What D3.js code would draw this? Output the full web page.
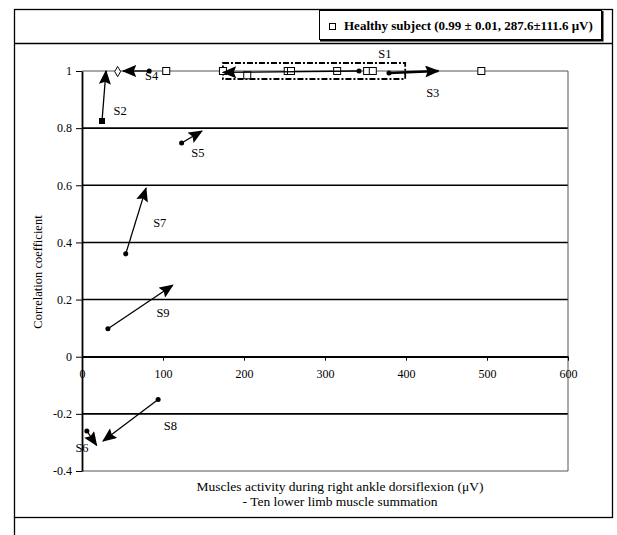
<!DOCTYPE html>
<html>
<head>
<meta charset="utf-8">
<script src="https://cdn.jsdelivr.net/npm/d3@7"></script>
<style>
  body { margin: 0; background: #fff; }
  text { font-family: "Liberation Serif", "DejaVu Serif", serif; fill: #000; }
</style>
</head>
<body>
<script>
//chart values
var yTickValues = [-0.4, -0.2, 0, 0.2, 0.4, 0.6, 0.8, 1];
var yTickLabels = ["-0.4", "-0.2", "0", "0.2", "0.4", "0.6", "0.8", "1"];
var xTickValues = [0, 100, 200, 300, 400, 500, 600];

//healthy subjects (open squares)
var healthyX = [104, 174, 204, 254, 258, 315, 352, 359, 493];
var healthyY = [1.0, 1.0, 0.985, 1.0, 1.0, 1.0, 1.0, 1.0, 1.0];

//patients: from first test (dot) to second test (arrow head)
var subjects = ["S1", "S2", "S3", "S4", "S5", "S6", "S7", "S8", "S9"];
var startX = [342, 24.7, 379, 83, 123, 6, 54, 94, 32];
var startY = [1.0, 0.825, 0.993, 1.0, 0.748, -0.26, 0.36, -0.15, 0.098];
var endX   = [174, 29.6, 440, 50.6, 148, 18, 79, 26, 112];
var endY   = [0.995, 1.0, 1.0, 1.0, 0.79, -0.31, 0.59, -0.295, 0.25];
var labelX = [374, 47, 433, 86, 143, 0, 96, 109, 100];
var labelY = [1.06, 0.86, 0.923, 0.985, 0.716, -0.317, 0.47, -0.24, 0.155];

//extra open diamond near S4 and the dashed box around S1
var diamondX = [44], diamondY = [0.998];
var boxX = [174, 399], boxY = [0.972, 1.028];

window.onload = drawChart();

function drawChart() {
    var width = 617,
        height = 535;

    var svg = d3.select("body")
        .append("svg")
        .attr("width", width)
        .attr("height", height);

    var x = d3.scaleLinear().domain([0, 600]).range([82, 568]);
    var y = d3.scaleLinear().domain([-0.4, 1]).range([471, 71]);

    //outer frames
    svg.append("rect")
        .attr("x", 14.5).attr("y", 9.5)
        .attr("width", 598).attr("height", 508)
        .attr("fill", "none").attr("stroke", "#000").attr("stroke-width", 1.3);
    svg.append("line")
        .attr("x1", 14.5).attr("x2", 612.5).attr("y1", 43.5).attr("y2", 43.5)
        .attr("stroke", "#000").attr("stroke-width", 1.3);
    svg.append("line")
        .attr("x1", 14.5).attr("x2", 14.5).attr("y1", 517).attr("y2", 535)
        .attr("stroke", "#000").attr("stroke-width", 1.3);

    //legend
    var lg = svg.append("g");
    lg.append("rect")
        .attr("x", 319.5).attr("y", 10.5).attr("width", 282).attr("height", 29)
        .attr("fill", "#fff").attr("stroke", "#000").attr("stroke-width", 1);
    lg.append("path")
        .attr("d", "M320,40.5H602.5V11")
        .attr("fill", "none").attr("stroke", "#000").attr("stroke-width", 2);
    lg.append("rect")
        .attr("x", 329.5).attr("y", 23.5).attr("width", 6).attr("height", 6)
        .attr("fill", "#fff").attr("stroke", "#000");
    lg.append("text")
        .attr("x", 344).attr("y", 30)
        .attr("font-size", "13px").attr("font-weight", "bold")
        .text("Healthy subject (0.99 \u00b1 0.01, 287.6\u00b1111.6 \u03bcV)");

    //horizontal grid lines
    svg.append("g").selectAll("line")
        .data(yTickValues)
        .enter()
        .append("line")
        .attr("x1", x(0)).attr("x2", x(600))
        .attr("y1", function(d) { return y(d); })
        .attr("y2", function(d) { return y(d); })
        .attr("stroke", function(d) { return (d === 1 || d === -0.4) ? "#555" : "#000"; })
        .attr("stroke-width", function(d) { return (d === 1 || d === -0.4) ? 1 : 1.6; });

    //right border of plot
    svg.append("line")
        .attr("x1", x(600)).attr("x2", x(600)).attr("y1", y(1)).attr("y2", y(-0.4))
        .attr("stroke", "#555").attr("stroke-width", 1);

    //y axis
    var yAxis = d3.axisLeft(y)
        .tickValues(yTickValues)
        .tickFormat(function(d, i) { return yTickLabels[i]; })
        .tickSize(6)
        .tickSizeOuter(0)
        .tickPadding(4);
    var ya = svg.append("g")
        .attr("transform", "translate(" + x(0) + ",0)")
        .call(yAxis);
    ya.select(".domain").attr("stroke-width", 1.8);
    ya.selectAll("text").attr("font-size", "12px").attr("font-family", "Liberation Serif");

    //x axis on zero line
    var xAxis = d3.axisBottom(x)
        .tickValues(xTickValues)
        .tickSize(4)
        .tickSizeOuter(0)
        .tickPadding(9);
    var xa = svg.append("g")
        .attr("transform", "translate(0," + y(0) + ")")
        .call(xAxis);
    xa.select(".domain").attr("stroke-width", 1.4);
    xa.selectAll("text").attr("font-size", "12px").attr("font-family", "Liberation Serif");

    //axis titles
    svg.append("text")
        .attr("transform", "translate(42,272) rotate(-90)")
        .attr("text-anchor", "middle")
        .attr("font-size", "12.5px")
        .text("Correlation coefficient");
    svg.append("text")
        .attr("x", 340).attr("y", 491)
        .attr("text-anchor", "middle")
        .attr("font-size", "13.5px")
        .text("Muscles activity during right ankle dorsiflexion (\u03bcV)");
    svg.append("text")
        .attr("x", 340).attr("y", 506)
        .attr("text-anchor", "middle")
        .attr("font-size", "13.5px")
        .text("- Ten lower limb muscle summation");

    //dashed box around S1
    svg.append("rect")
        .attr("x", x(boxX[0])).attr("y", y(boxY[1]))
        .attr("width", x(boxX[1]) - x(boxX[0]))
        .attr("height", y(boxY[0]) - y(boxY[1]))
        .attr("fill", "none").attr("stroke", "#000")
        .attr("stroke-width", 1.8).attr("stroke-dasharray", "6,2,2,2");

    //arrow head marker
    svg.append("defs").append("marker")
        .attr("id", "arrow")
        .attr("viewBox", "0 -5 12 10")
        .attr("refX", 11).attr("refY", 0)
        .attr("markerUnits", "userSpaceOnUse")
        .attr("markerWidth", 15).attr("markerHeight", 12)
        .attr("orient", "auto")
        .append("path")
        .attr("d", "M0,-5L12,0L0,5L2,0Z")
        .attr("fill", "#000");

    //healthy squares
    svg.append("g").selectAll("rect")
        .data(healthyX)
        .enter()
        .append("rect")
        .attr("x", function(d) { return x(d) - 3.5; })
        .attr("y", function(d, i) { return y(healthyY[i]) - 3.5; })
        .attr("width", 7).attr("height", 7)
        .attr("fill", "#fff").attr("stroke", "#000").attr("stroke-width", 1);

    //subject arrows
    var arrows = svg.append("g");
    arrows.selectAll("line")
        .data(subjects)
        .enter()
        .append("line")
        .attr("x1", function(d, i) { return x(startX[i]); })
        .attr("y1", function(d, i) { return y(startY[i]); })
        .attr("x2", function(d, i) { return x(endX[i]); })
        .attr("y2", function(d, i) { return y(endY[i]); })
        .attr("stroke", "#000")
        .attr("stroke-width", function(d) { return d === "S3" ? 2.6 : 1.3; })
        .attr("marker-end", "url(#arrow)");

    //start markers
    arrows.selectAll(".start")
        .data(subjects)
        .enter()
        .append("path")
        .attr("class", "start")
        .attr("transform", function(d, i) {
            return "translate(" + x(startX[i]) + "," + y(startY[i]) + ")";
        })
        .attr("d", function(d) {
            return d === "S2" ? d3.symbol(d3.symbolSquare, 36)() : d3.symbol(d3.symbolCircle, 20)();
        })
        .attr("fill", "#000");

    //open diamond
    svg.append("g").selectAll("path")
        .data(diamondX)
        .enter()
        .append("path")
        .attr("transform", function(d, i) { return "translate(" + x(d) + "," + y(diamondY[i]) + ")"; })
        .attr("d", d3.symbol(d3.symbolDiamond, 30)())
        .attr("fill", "#fff").attr("stroke", "#000");

    //subject labels
    svg.append("g").selectAll("text")
        .data(subjects)
        .enter()
        .append("text")
        .attr("x", function(d, i) { return x(labelX[i]); })
        .attr("y", function(d, i) { return y(labelY[i]); })
        .attr("dy", "0.35em")
        .attr("text-anchor", "middle")
        .attr("font-size", "12.5px")
        .text(function(d) { return d; });
}
</script>
</body>
</html>
